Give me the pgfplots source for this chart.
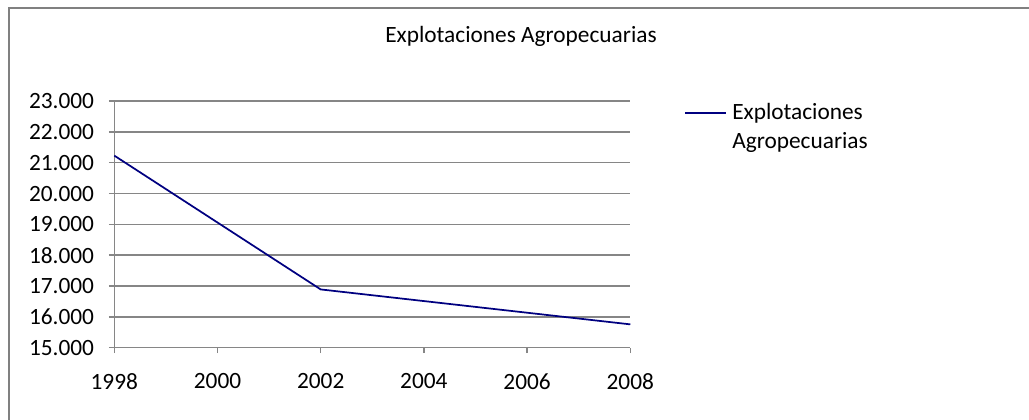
\documentclass[border=0pt]{standalone}
\usepackage{fontspec}
\setmainfont{Carlito}
\usepackage{pgfplots}
\pgfplotsset{compat=1.18}
\definecolor{gridgray}{RGB}{134,134,134}
\definecolor{framegray}{RGB}{128,128,128}
\definecolor{seriesblue}{RGB}{0,0,128}
\begin{document}
\begin{tikzpicture}
\path[use as bounding box] (0,0) rectangle (771.75pt,314.25pt);
\draw[framegray, line width=1.5pt] (6.375pt,-2pt) -- (6.375pt,308.475pt) -- (775pt,308.475pt);
\begin{axis}[
  at={(85.725pt,53.475pt)}, anchor=south west,
  scale only axis, width=387pt, height=185pt,
  xmin=1998, xmax=2008, ymin=15000, ymax=23000,
  xtick={1998,2000,...,2008},
  xticklabels={1998,2000,2002,2004,2006,2008},
  ytick={15000,16000,...,23000},
  yticklabels={15.000,16.000,17.000,18.000,19.000,20.000,21.000,22.000,23.000},
  scaled y ticks=false, scaled x ticks=false,
  axis x line*=bottom, axis y line*=left,
  axis line style={gridgray, line width=1.1pt, -},
  ymajorgrids, grid style={gridgray, line width=1.1pt},
  tick align=outside, major tick length=4pt,
  tick style={gridgray, line width=1.1pt},
  ticklabel style={font=\fontsize{17.5}{21}\selectfont, text=black},
  yticklabel style={inner sep=0pt, xshift=-11pt},
  xticklabel style={inner sep=0pt, yshift=-15pt},
  clip=false,
]
\addplot[seriesblue, line width=1.3pt] coordinates {(1998,21230) (2002,16890) (2008,15757)};
\end{axis}
\node[font=\fontsize{17.5}{21}\selectfont, anchor=base] at (390.75pt,282.5pt) {Explotaciones Agropecuarias};
\draw[seriesblue, line width=1.3pt] (513.75pt,229.25pt) -- (544.5pt,229.25pt);
\node[font=\fontsize{17.5}{21.75}\selectfont, anchor=north west, align=left, inner sep=0pt] at (549pt,237pt) {Explotaciones\\Agropecuarias};
\end{tikzpicture}
\end{document}
